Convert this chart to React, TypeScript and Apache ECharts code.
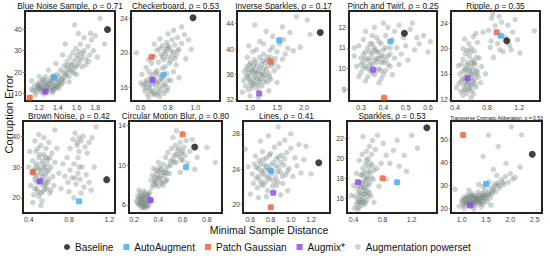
import React, { useEffect, useRef } from "react";
import * as echarts from "echarts";

const FONT = '"Liberation Sans", Arial, Helvetica, sans-serif';

const titles = [
  "Blue Noise Sample, ρ = 0.71",
  "Checkerboard, ρ = 0.53",
  "Inverse Sparkles, ρ = 0.17",
  "Pinch and Twirl, ρ = 0.25",
  "Ripple, ρ = 0.35",
  "Brown Noise, ρ = 0.42",
  "Circular Motion Blur, ρ = 0.80",
  "Lines, ρ = 0.41",
  "Sparkles, ρ = 0.53",
  "Transverse Cromatic Abberation, ρ = 0.53",
];

const xRanges = [
  [1.05, 2.01], [0.53, 1.18], [0.76, 2.48], [0.246, 0.64], [0.35, 1.46],
  [0.343, 1.257], [0.158, 0.925], [0.528, 1.387], [0.31, 1.55], [0.78, 2.65],
];
const yRanges = [
  [6.6, 48.4], [14.4, 24.85], [31.8, 46], [8.42, 12.79], [11.7, 25.95],
  [15.1, 44.9], [5.19, 14.47], [19.06, 29.47], [14.53, 23.73], [18.1, 58],
];
const xTicks = [
  [1.2, 1.4, 1.6, 1.8], [0.6, 0.8, 1.0], [1.0, 1.5, 2.0], [0.3, 0.4, 0.5, 0.6], [0.4, 0.8, 1.2],
  [0.4, 0.8, 1.2], [0.2, 0.4, 0.6, 0.8], [0.6, 0.8, 1.0, 1.2], [0.4, 0.8, 1.2], [1.0, 1.5, 2.0, 2.5],
];
const yTicks = [
  [10, 20, 30, 40], [16, 20, 24], [32, 36, 40, 44], [9, 10, 11, 12], [12, 16, 20, 24],
  [20, 30, 40], [6, 10, 14], [20, 24, 28], [16, 18, 20, 22], [20, 30, 40, 50],
];

const baseline = [[1.93, 39.8], [0.983, 24.07], [2.3, 42.6], [0.494, 11.71], [1.045, 21.24], [1.174, 25.9], [0.7, 11.85], [1.276, 24.75], [1.41, 23.06], [2.45, 43.6]];
const autoAugment = [[1.36, 17.5], [0.767, 17.46], [1.54, 41.4], [0.431, 11.31], [0.97, 22.03], [0.9, 18.9], [0.627, 9.8], [0.8, 23.84], [1.0, 17.6], [1.5, 30.7]];
const patchGaussian = [[1.1, 8.1], [0.68, 19.5], [1.38, 38.05], [0.403, 8.58], [0.92, 22.57], [0.443, 28.4], [0.6, 13.13], [0.803, 19.7], [0.8, 18.0], [1.03, 51.9]];
const augmix = [[1.27, 10.9], [0.687, 16.85], [1.17, 32.97], [0.354, 9.95], [0.558, 15.3], [0.51, 25.4], [0.336, 6.5], [0.826, 21.36], [0.46, 17.6], [1.17, 21.4]];

const powersetBlueNoise = [[1.12,12],[1.15,13.5],[1.17,11],[1.18,14.5],[1.2,12.5],[1.21,15.5],[1.22,10.8],[1.23,13],[1.24,16.5],[1.25,12],[1.26,14],[1.27,15],[1.28,11.5],[1.29,13.5],[1.3,16],[1.31,12.8],[1.32,14.8],[1.33,17.5],[1.34,13],[1.35,15.5],[1.36,12],[1.37,14],[1.38,16.8],[1.39,19],[1.4,13.5],[1.41,15.8],[1.42,18],[1.43,21],[1.44,14.5],[1.45,17],[1.46,20],[1.47,23],[1.48,19],[1.5,25],[1.5,21.5],[1.52,18],[1.53,27],[1.54,23.5],[1.55,20.5],[1.56,29],[1.57,25],[1.58,22],[1.59,31],[1.6,26.5],[1.62,24],[1.63,29.5],[1.64,33],[1.65,27],[1.66,22.5],[1.68,30],[1.7,26],[1.72,32],[1.74,28],[1.76,35],[1.78,30],[1.8,37],[1.58,42],[1.85,45],[1.75,38],[1.68,36],[1.45,28],[1.38,24],[1.3,21],[1.2,18],[1.12,16],[1.16,9.5],[1.25,9.8],[1.34,10.5],[1.9,33],[1.82,27],[1.48,33],[1.62,38],[1.27,17.8],[1.19,13.2],[1.23,11.7],[1.35,11.2],[1.41,12.5],[1.52,15.5],[1.6,19],
  [1.14,11.5],[1.18,12.2],[1.2,14],[1.22,12.9],[1.24,14.8],[1.26,11.2],[1.28,13],[1.3,14.5],[1.32,11.8],[1.33,15.8],[1.36,13.4],[1.38,12.6],[1.4,15],[1.42,14.2],[1.44,16.5],[1.46,15.5],[1.48,17.8],[1.5,19.5],[1.53,21],[1.55,23],[1.57,19.5],[1.6,22.8],[1.61,28],[1.64,25.5],[1.67,28.5],[1.7,23.5],[1.73,25],[1.5,23],[1.35,18.5],[1.25,16.5]];
const powersetCheckerboard = [[0.62,16.2],[0.63,15.6],[0.64,16.8],[0.65,15.2],[0.66,16],[0.67,17.2],[0.68,15.5],[0.69,16.4],[0.7,15.1],[0.7,17],[0.71,15.8],[0.72,16.6],[0.73,15.4],[0.73,17.4],[0.74,16.1],[0.75,15.7],[0.76,16.9],[0.77,15.3],[0.78,16.3],[0.79,17.6],[0.8,15.9],[0.66,17.8],[0.64,15.9],[0.68,16.9],[0.72,17.9],[0.76,18.2],[0.82,16.8],[0.84,17.8],[0.6,16.5],[0.61,17.5],[0.68,18.8],[0.7,19.6],[0.72,20.3],[0.73,18.9],[0.75,19.8],[0.76,20.8],[0.77,19.2],[0.78,20.2],[0.79,21.2],[0.8,19.5],[0.81,20.6],[0.82,19.1],[0.83,21.5],[0.84,20.1],[0.85,20.9],[0.86,19.7],[0.87,21.8],[0.88,20.4],[0.9,21.1],[0.92,22.1],[0.9,23],[0.95,21.5],[0.84,22.6],[0.8,22.2],[0.74,21.6],[0.7,21],[0.66,19.2],[0.57,20],[0.64,18.3],[0.97,20.4],[0.93,19.3],[0.78,18.4],[0.86,18.6],[0.74,14.9],[0.66,14.8],[0.88,17.1],
  [0.63,16.4],[0.65,16.6],[0.67,15.7],[0.69,15.3],[0.69,17.5],[0.71,16.4],[0.72,15.2],[0.74,16.7],[0.75,17.1],[0.77,16.2],[0.79,15.6],[0.8,16.8],[0.67,16.3],[0.71,17.7],[0.76,19.5],[0.78,19.9],[0.8,20.8],[0.82,20.2],[0.83,19.6],[0.85,19.3],[0.74,20.5],[0.81,18.8],[0.87,20.2],[0.79,20.5]];
const powersetInverseSparkles = [[0.88,35],[0.9,36.5],[0.92,34.2],[0.94,37.2],[0.95,35.5],[0.97,33.6],[0.98,36.2],[1.0,34.8],[1.01,37.8],[1.02,35.9],[1.04,33.9],[1.05,36.8],[1.06,35.1],[1.08,38.3],[1.09,34.4],[1.1,36.1],[1.12,37.3],[1.13,35.3],[1.14,33.7],[1.16,36.6],[1.17,34.9],[1.18,38.7],[1.2,35.8],[1.21,37.6],[1.22,34.2],[1.24,36.3],[1.25,39.2],[1.27,35.4],[1.28,37.9],[1.3,36.7],[1.32,34.8],[1.33,38.8],[1.35,36.1],[1.37,39.8],[1.38,35.2],[1.4,37.4],[1.42,40.3],[1.45,36.6],[1.47,38.5],[1.5,39.6],[1.52,37.2],[1.55,40.8],[1.6,38.4],[1.62,41.5],[1.65,39.2],[1.7,40.1],[1.74,42.6],[1.8,39.7],[1.86,45.1],[1.93,40.3],[2.06,44.6],[2.11,42.3],[1.09,43.8],[1.18,41.2],[1.3,42.8],[1.25,40.8],[1.05,39.6],[0.95,38.7],[0.86,33.2],[1.0,32.6],[1.15,32.3],[1.35,33.4],[1.5,34.7],[1.12,39.9],[1.6,43.5],[1.42,42],[0.98,40.5],
  [0.93,35.8],[0.96,36.8],[0.99,35.2],[1.02,34.3],[1.03,36.6],[1.06,37.4],[1.07,34.6],[1.1,35.6],[1.11,37.9],[1.14,36.3],[1.15,34.4],[1.19,35.2],[1.19,37.1],[1.22,36],[1.23,38.2],[1.26,34.8],[1.26,37],[1.29,35.9],[1.31,38.3],[1.34,37.4],[1.36,35.6],[1.39,38.6],[1.44,37.8],[1.08,36.5],[0.99,37.5]];
const powersetPinchTwirl = [[0.27,10.6],[0.28,10.1],[0.29,11.1],[0.3,9.8],[0.3,10.5],[0.31,11.4],[0.31,10.0],[0.32,10.8],[0.33,9.6],[0.33,10.4],[0.34,11.2],[0.34,9.9],[0.35,10.7],[0.35,10.2],[0.36,11.0],[0.36,9.7],[0.37,10.5],[0.37,11.5],[0.38,10.0],[0.38,10.8],[0.39,9.5],[0.39,11.2],[0.4,10.3],[0.4,10.9],[0.41,9.9],[0.41,11.6],[0.42,10.6],[0.43,11.0],[0.43,10.1],[0.44,11.4],[0.45,10.5],[0.45,11.8],[0.46,11.0],[0.47,12.1],[0.48,10.7],[0.49,11.5],[0.5,11.1],[0.51,10.4],[0.52,11.9],[0.53,12.2],[0.54,10.9],[0.55,11.5],[0.56,11.2],[0.58,11.6],[0.6,10.8],[0.61,11.3],[0.32,11.8],[0.36,12.0],[0.42,12.0],[0.38,9.3],[0.32,9.4],[0.29,9.6],[0.35,11.6],[0.44,9.7],[0.47,10.2],[0.27,11.0],[0.4,12.2],[0.34,10.5],[0.37,10.3],[0.31,10.3],[0.39,10.6],
  [0.3,10.2],[0.31,10.7],[0.32,10.1],[0.33,11.0],[0.33,10.0],[0.34,10.8],[0.35,9.8],[0.35,11.2],[0.36,10.4],[0.36,10.9],[0.37,9.9],[0.37,10.8],[0.38,10.5],[0.38,11.3],[0.39,9.9],[0.39,10.3],[0.4,10.6],[0.4,9.7],[0.41,10.4],[0.41,11.0],[0.42,10.2],[0.43,10.7],[0.32,10.5],[0.34,10.2]];
const powersetRipple = [[0.45,14.5],[0.46,16],[0.47,13.2],[0.48,17.5],[0.49,15.2],[0.5,12.6],[0.5,18.3],[0.51,14.1],[0.52,16.7],[0.53,13.5],[0.53,19.2],[0.54,15.8],[0.55,12.9],[0.55,17.4],[0.56,14.6],[0.57,16.3],[0.58,18.8],[0.58,13.7],[0.59,15.4],[0.6,17.1],[0.6,20.1],[0.61,14.2],[0.62,16.0],[0.62,18.2],[0.63,12.8],[0.64,15.1],[0.64,19.6],[0.65,17.5],[0.66,13.9],[0.67,16.6],[0.68,21],[0.69,15.5],[0.7,18.5],[0.72,14.6],[0.73,17.2],[0.63,21.9],[0.57,20.8],[0.5,20],[0.44,17.3],[0.42,13.8],[0.75,22.6],[0.78,16],[0.66,22.4],[0.6,12.2],[0.52,21.5],[0.856,24.8],[1.06,23.7],[0.96,19.8],[1.21,19.3],[1.39,22.8],[0.88,18.6],[0.85,21.2],[0.9,23.6],[0.93,20.8],[0.98,24.2],[1.02,21.8],[1.08,20.5],[1.12,22.6],[1.15,24.6],[0.82,22.9],[0.95,25.1],[1.0,19.5],[1.1,19.8],[0.84,20.2],[1.18,21.4],[0.87,25.5],
  [0.48,14.8],[0.5,16.4],[0.51,13.4],[0.52,15.4],[0.54,14.3],[0.54,16.9],[0.56,15.1],[0.56,17.8],[0.57,13.6],[0.58,16.6],[0.59,14.4],[0.6,15.9],[0.61,17.7],[0.61,13.3],[0.62,14.9],[0.63,16.6],[0.64,17.8],[0.65,14.4],[0.66,15.8],[0.67,18.6],[0.68,16.2],[0.55,19.7],[0.59,19.5],[0.53,14.9]];
const powersetBrownNoise = [[0.42,24],[0.43,28],[0.44,32],[0.45,21],[0.46,26],[0.47,30],[0.47,35],[0.48,23],[0.49,27.5],[0.5,33],[0.5,20.5],[0.51,29],[0.52,24.5],[0.52,37],[0.53,31],[0.54,22],[0.54,27],[0.55,34],[0.56,25.5],[0.56,30],[0.57,36],[0.58,23],[0.58,28.5],[0.59,32.5],[0.6,26],[0.6,38],[0.61,21.5],[0.62,30],[0.63,34.5],[0.64,27],[0.65,24],[0.46,38.5],[0.55,39.5],[0.5,40.5],[0.44,18.5],[0.53,19],[0.66,31.5],[0.68,36],[0.4,30],[0.41,35],[0.48,25],[0.57,33],[0.62,22.5],[0.52,17.5],[0.7,28],[0.81,36],[0.84,39],[0.86,41],[0.88,37],[0.9,35],[0.92,38.5],[0.94,40],[0.96,36.5],[0.98,34.5],[1.0,38],[1.03,39.5],[1.07,43],[0.89,33],[0.76,27],[0.79,25],[0.81,29],[0.83,26.5],[0.85,31],[0.87,24.5],[0.89,28],[0.91,26],[0.93,30],[0.95,23.5],[0.97,27.5],[1.0,25],[0.8,22],[0.92,21.5],[1.02,22.5],[0.74,31],[0.72,23],[1.05,30],[0.85,20],[0.66,42],[0.78,33],
  [0.46,23],[0.47,27],[0.48,31],[0.49,22],[0.5,25.5],[0.5,29.5],[0.51,34],[0.52,21.5],[0.53,26],[0.53,28],[0.54,32],[0.55,24],[0.55,29.5],[0.56,22.8],[0.57,27.5],[0.58,31],[0.59,25],[0.6,29],[0.61,33],[0.49,36],[0.45,29],[0.57,24.5],[0.88,38],[0.9,39.5],[0.86,26.5],[0.9,30]];
const powersetCircularBlur = [[0.22,6.4],[0.23,6.9],[0.24,6.0],[0.25,6.6],[0.25,7.2],[0.26,5.8],[0.27,6.3],[0.27,6.9],[0.28,6.1],[0.28,7.4],[0.29,6.6],[0.3,5.9],[0.3,7.0],[0.31,6.4],[0.32,6.8],[0.32,6.0],[0.33,7.3],[0.34,6.5],[0.26,6.5],[0.29,5.7],[0.24,7.5],[0.35,7.8],[0.34,8.5],[0.35,9.0],[0.36,8.1],[0.37,8.8],[0.38,9.5],[0.38,8.3],[0.39,9.1],[0.4,7.9],[0.41,8.7],[0.41,9.8],[0.42,8.4],[0.43,9.3],[0.44,8.0],[0.44,10.1],[0.45,8.9],[0.46,9.6],[0.47,8.5],[0.48,9.9],[0.49,9.2],[0.5,10.4],[0.36,9.7],[0.4,10.3],[0.46,10.8],[0.48,11.3],[0.5,10.0],[0.51,11.7],[0.52,10.6],[0.53,11.0],[0.54,12.0],[0.55,10.3],[0.56,11.5],[0.57,10.9],[0.58,12.3],[0.59,11.2],[0.6,10.5],[0.61,11.8],[0.62,11.0],[0.63,12.5],[0.64,10.2],[0.66,11.4],[0.55,13.5],[0.68,12.6],[0.8,11.8],[0.87,10.3],[0.72,10.8],[0.7,9.6],[0.58,9.3],[0.52,12.8],
  [0.23,6.2],[0.24,6.7],[0.25,6.1],[0.26,7.0],[0.27,6.6],[0.28,5.9],[0.28,6.8],[0.29,7.2],[0.3,6.4],[0.31,6.9],[0.31,5.8],[0.32,7.1],[0.27,5.7],[0.26,6.2],[0.29,6.2],[0.33,6.3],[0.37,8.4],[0.39,8.7],[0.4,9.4],[0.42,8.9],[0.43,8.2],[0.45,9.3],[0.46,8.4],[0.38,8.0],[0.42,9.6],[0.47,9.2],[0.53,10.3],[0.55,11.1],[0.57,11.7],[0.59,10.6],[0.6,11.4]];
const powersetLines = [[0.62,23.5],[0.63,22.4],[0.64,24.6],[0.65,25.5],[0.66,23.0],[0.67,21.9],[0.68,24.1],[0.69,25.0],[0.7,22.7],[0.71,23.8],[0.72,26.0],[0.73,22.2],[0.74,24.5],[0.75,23.3],[0.76,25.3],[0.77,21.6],[0.78,24.0],[0.79,22.9],[0.8,25.8],[0.81,23.5],[0.82,22.1],[0.83,24.8],[0.84,26.5],[0.85,23.1],[0.86,25.2],[0.87,22.6],[0.88,24.2],[0.89,26.9],[0.9,23.7],[0.91,25.6],[0.92,22.4],[0.93,24.5],[0.94,27.3],[0.95,23.4],[0.96,25.9],[0.98,24.1],[1.0,26.4],[1.02,23.2],[1.04,25.3],[1.06,24.4],[1.08,26.8],[1.1,23.6],[1.13,25.1],[1.2,23.5],[0.875,28.8],[0.55,26.3],[0.6,21.2],[0.7,27.2],[0.78,27.8],[1.0,28.0],[1.15,26.6],[0.97,21.6],[0.68,20.8],[0.58,24.3],[0.76,20.9],[0.9,21.1],
  [0.66,24.2],[0.68,23.2],[0.7,24.6],[0.72,23.5],[0.73,25.1],[0.75,22.6],[0.76,24.3],[0.78,23.1],[0.8,24.5],[0.82,23.8],[0.83,22.7],[0.85,24.4],[0.87,23.7],[0.88,25.4],[0.9,24.8],[0.92,23.2],[0.94,25.2],[0.71,22.3],[0.79,25.6],[0.86,22.2],[0.97,23.8],[0.74,23.9]];
const powersetSparkles = [[0.42,16.2],[0.44,15.4],[0.45,17.0],[0.46,16.0],[0.47,15.1],[0.48,17.6],[0.49,16.5],[0.5,15.6],[0.5,18.3],[0.51,17.1],[0.52,15.9],[0.53,16.8],[0.53,19.0],[0.54,17.7],[0.55,15.4],[0.55,18.6],[0.56,16.4],[0.57,19.4],[0.57,17.3],[0.58,15.8],[0.59,18.1],[0.6,16.7],[0.6,20.0],[0.61,19.1],[0.62,17.6],[0.63,18.6],[0.64,16.2],[0.65,20.4],[0.66,19.3],[0.67,17.9],[0.68,18.8],[0.7,20.9],[0.72,19.0],[0.62,21.2],[0.58,20.7],[0.53,22.16],[0.48,19.8],[0.44,18.5],[0.4,17.3],[0.37,16.3],[0.41,15.0],[0.75,17.2],[0.78,19.5],[0.81,21.5],[0.85,20.3],[0.9,19.5],[0.95,20.8],[1.03,19.2],[1.13,18.7],[1.2,22.3],[1.28,21.0],[1.0,21.8],[0.73,22.3],[0.68,15.6],[0.85,17.9],[0.66,21.8],[0.52,20.4],[0.46,14.9],[1.1,20.3],
  [0.46,15.7],[0.47,16.6],[0.48,15.6],[0.49,17.2],[0.5,16.2],[0.51,15.3],[0.52,17.5],[0.53,15.8],[0.54,16.4],[0.55,17.1],[0.56,15.6],[0.56,18.1],[0.57,16.8],[0.58,17.8],[0.59,16.2],[0.6,18.6],[0.61,17.3],[0.62,16.5],[0.63,19.5],[0.64,18.1],[0.52,18.4],[0.58,19.8]];
const powersetTransverse = [[1.0,23.5],[1.02,22.0],[1.04,25.0],[1.06,21.4],[1.08,24.2],[1.1,22.8],[1.12,26.0],[1.14,23.4],[1.16,21.8],[1.18,24.8],[1.2,23.0],[1.22,26.4],[1.24,22.2],[1.26,24.0],[1.28,25.6],[1.3,21.6],[1.32,23.6],[1.34,27.2],[1.36,22.6],[1.38,25.0],[1.4,23.8],[1.42,26.6],[1.44,22.0],[1.46,24.4],[1.48,28.0],[1.5,25.6],[1.52,23.0],[1.55,27.0],[1.58,24.6],[1.6,29.0],[1.62,26.2],[1.65,28.4],[1.68,30.6],[1.7,27.4],[1.74,31.2],[1.78,29.0],[1.82,32.6],[1.86,30.4],[1.9,34.0],[1.95,31.4],[2.0,35.2],[2.05,32.8],[2.1,33.6],[1.72,34.4],[1.56,31.5],[1.44,29.6],[2.02,55.5],[2.23,52.0],[1.55,51.9],[1.75,46.9],[1.44,42.7],[1.91,39.6],[0.86,28.4],[0.95,21.0],[1.25,19.8],[1.6,21.5],[1.35,30.5],[1.15,28.0],[2.2,38.0],[1.65,37.0],[1.05,20.0],[1.3,24.6],[1.2,25.4],[1.4,20.8],
  [1.03,23.0],[1.07,24.0],[1.09,22.4],[1.11,25.0],[1.13,22.0],[1.15,24.3],[1.17,23.0],[1.19,25.8],[1.21,22.4],[1.23,24.6],[1.25,23.4],[1.27,22.6],[1.29,25.0],[1.31,23.0],[1.33,24.4],[1.35,25.8],[1.37,23.4],[1.39,22.2],[1.41,24.8],[1.43,25.6],[1.45,23.2],[1.47,26.2],[1.5,24.4],[1.53,25.6],[1.57,26.4],[1.63,27.4],[1.69,29.6],[1.76,30.2],[1.84,31.4],[1.23,21.2]];

const powerset = [
  powersetBlueNoise, powersetCheckerboard, powersetInverseSparkles, powersetPinchTwirl, powersetRipple,
  powersetBrownNoise, powersetCircularBlur, powersetLines, powersetSparkles, powersetTransverse,
];

// layout: [left, top, width, height] of each panel
const boxes = [
  [25, 11, 90, 90], [131, 11, 89, 90], [237, 11, 93, 90], [349, 11, 88, 90], [451, 11, 89, 90],
  [23, 121, 92, 92], [129, 121, 93, 92], [243, 121, 87, 92], [347, 121, 90, 92], [451, 121, 91, 92],
];

const COLORS = {
  baseline: "#111111",
  auto: "#3aa8f2",
  patch: "#ef5a30",
  augmix: "#8b42f4",
  gray: "#6a7c77",
};

export default function App() {
  const ref = useRef<HTMLDivElement>(null);
  useEffect(() => {
    if (!ref.current) return;
    const chart = echarts.init(ref.current, undefined, { renderer: "svg" });
    const grid: any[] = [];
    const xAxis: any[] = [];
    const yAxis: any[] = [];
    const series: any[] = [];
    const graphic: any[] = [];
    boxes.forEach((b, i) => {
      const [l, t, w, h] = b;
      grid.push({ left: l, top: t, width: w, height: h, show: true, borderColor: "#222", borderWidth: 2, backgroundColor: "#fff" });
      xAxis.push({
        gridIndex: i, type: "value", min: xRanges[i][0], max: xRanges[i][1],
        axisLine: { show: false }, splitLine: { show: false },
        axisTick: { show: false },
        axisLabel: { customValues: xTicks[i], formatter: (v: number) => v.toFixed(1), fontSize: 7, color: "#444", margin: 3, fontFamily: FONT },
      });
      yAxis.push({
        gridIndex: i, type: "value", min: yRanges[i][0], max: yRanges[i][1],
        axisLine: { show: false }, splitLine: { show: false },
        axisTick: { show: true, length: 2, customValues: yTicks[i], lineStyle: { color: "#555", width: 0.8 } },
        axisLabel: { customValues: yTicks[i], formatter: (v: number) => String(Math.round(v)), fontSize: 7, color: "#444", margin: 3, fontFamily: FONT },
      });
      series.push({
        name: "Augmentation powerset", type: "scatter", xAxisIndex: i, yAxisIndex: i,
        data: powerset[i], symbol: "circle", symbolSize: 5.5,
        itemStyle: { color: COLORS.gray, opacity: 0.33 },
      });
      series.push({ name: "Patch Gaussian", type: "scatter", xAxisIndex: i, yAxisIndex: i, data: [patchGaussian[i]], symbol: "roundRect", symbolSize: 6, itemStyle: { color: COLORS.patch } });
      series.push({ name: "AutoAugment", type: "scatter", xAxisIndex: i, yAxisIndex: i, data: [autoAugment[i]], symbol: "roundRect", symbolSize: 6, itemStyle: { color: COLORS.auto } });
      series.push({ name: "Baseline", type: "scatter", xAxisIndex: i, yAxisIndex: i, data: [baseline[i]], symbol: "circle", symbolSize: 7, itemStyle: { color: COLORS.baseline } });
      series.push({ name: "Augmix*", type: "scatter", xAxisIndex: i, yAxisIndex: i, data: [augmix[i]], symbol: "roundRect", symbolSize: 6, itemStyle: { color: COLORS.augmix } });
      graphic.push({
        type: "text", x: l + w / 2, y: t - 1, silent: true,
        style: {
          text: titles[i], fill: "#111", textAlign: "center", textVerticalAlign: "bottom",
          font: `${i === 9 ? 5 : 8.3}px ${FONT}`,
        },
      });
    });
    graphic.push({
      type: "text", x: 9, y: 114, rotation: Math.PI / 2,
      style: { text: "Corruption Error", fill: "#111", textAlign: "center", textVerticalAlign: "middle", font: `11px ${FONT}` },
    });
    graphic.push({
      type: "text", x: 269, y: 230,
      style: { text: "Minimal Sample Distance", fill: "#111", textAlign: "center", textVerticalAlign: "middle", font: `10.5px ${FONT}` },
    });
    chart.setOption({
      animation: false,
      backgroundColor: "#fff",
      grid, xAxis, yAxis, series, graphic,
      legend: {
        left: 64, top: 242, itemWidth: 6, itemHeight: 6, itemGap: 10, padding: 0,
        textStyle: { fontSize: 10, color: "#111", fontFamily: FONT },
        data: [
          { name: "Baseline", icon: "circle" },
          { name: "AutoAugment", icon: "rect" },
          { name: "Patch Gaussian", icon: "rect" },
          { name: "Augmix*", icon: "rect" },
          { name: "Augmentation powerset", icon: "circle" },
        ],
      },
    });
    return () => chart.dispose();
  }, []);
  return <div ref={ref} style={{ position: "fixed", left: 0, top: 0, width: 550, height: 262 }} />;
}
